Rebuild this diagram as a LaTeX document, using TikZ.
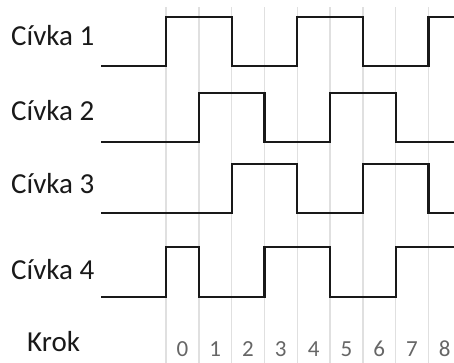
\documentclass[tikz,border=0pt]{standalone}
\usepackage{fontspec}
\setmainfont{Carlito}
\begin{document}
\begin{tikzpicture}[x=1pt,y=-1pt,
  gridline/.style={draw=black!12,line width=1.4pt},
  signal/.style={draw=black!90,line width=2.2pt,line join=miter},
  coillabel/.style={anchor=west,inner sep=0pt,font=\fontsize{29}{32}\selectfont,text=black!90},
  steplabel/.style={inner sep=0pt,font=\fontsize{23}{26}\selectfont,text=black!60}]
\useasboundingbox (0,0) rectangle (454,363);
% grid
\foreach \k in {0,...,8} \draw[gridline] ({166+32.8*\k},7) -- ({166+32.8*\k},363);
% labels
\node[coillabel] (l1) at (11,36) {Cívka 1};
\node[coillabel] (l2) at (11,111) {Cívka 2};
\node[coillabel] (l3) at (11,184) {Cívka 3};
\node[coillabel] (l4) at (11,270) {Cívka 4};
\node[coillabel] (lk) at (27,342) {Krok};
\foreach \k in {0,...,8} \node[steplabel] (s\k) at ({182.4+32.8*\k},349) {\k};
% coil 1: high steps 0,1,4,5,8
\draw[signal] (101,66) -- (166,66) -- (166,17) -- (231.6,17) -- (231.6,66) -- (297.2,66) -- (297.2,17) -- (362.8,17) -- (362.8,66) -- (428.4,66) -- (428.4,17) -- (455,17);
% coil 2: high steps 1,2,5,6
\draw[signal] (101,142) -- (198.8,142) -- (198.8,93) -- (264.4,93) -- (264.4,142) -- (330,142) -- (330,93) -- (395.6,93) -- (395.6,142) -- (455,142);
% coil 3: high steps 2,3,6,7
\draw[signal] (101,213) -- (231.6,213) -- (231.6,164) -- (297.2,164) -- (297.2,213) -- (362.8,213) -- (362.8,164) -- (428.4,164) -- (428.4,213) -- (455,213);
% coil 4: high steps 0,3,4,7,8
\draw[signal] (101,297) -- (166,297) -- (166,247) -- (198.8,247) -- (198.8,297) -- (264.4,297) -- (264.4,247) -- (330,247) -- (330,297) -- (395.6,297) -- (395.6,247) -- (455,247);
\end{tikzpicture}
\end{document}
